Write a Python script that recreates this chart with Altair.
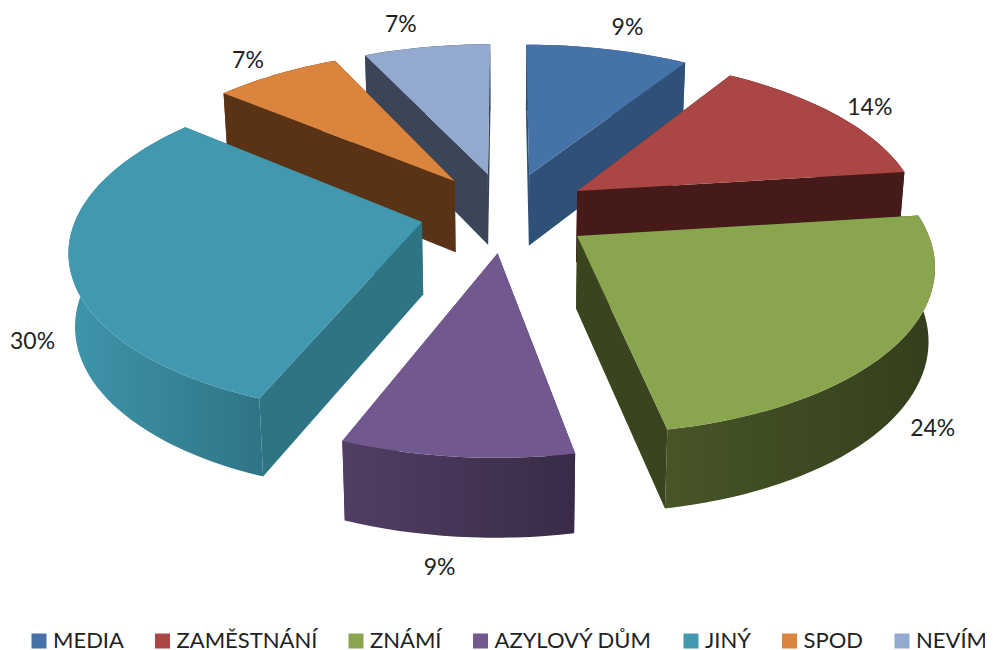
import math
import altair as alt

names = ["MEDIA", "ZAMĚSTNÁNÍ", "ZNÁMÍ", "AZYLOVÝ DŮM", "JINÝ", "SPOD", "NEVÍM"]
values = [9, 14, 24, 9, 30, 7, 7]
top_colors = ["#4572A7", "#AA4643", "#89A54E", "#71588F", "#4198AF", "#DB843D", "#93A9CF"]
radial_colors = ["#2F5077", "#451A18", "#3A451F", "#3C2D4C", "#2F7485", "#5A3316", "#3B4558"]
wall_left = ["#2F5077", "#451A18", "#475527", "#523E64", "#3F95AB", "#5A3316", "#3B4558"]
wall_right = ["#2F5077", "#451A18", "#333F1C", "#392B47", "#2E7486", "#5A3316", "#3B4558"]
draw_order = [6, 0, 5, 1, 4, 2, 3]

# pie model on the page (8px margin removed)
CX, CY, A, B, P, E, D, SHRINK = 498, 204, 344, 160, 0.15, 0.25, 72, 0.985


def project(x, y, bottom=False):
    w = 1 + P * y
    if bottom:
        return [CX + x * A / w * SHRINK, CY + (-y * B) / w + D / w ** 0.5]
    return [CX + x * A / w, CY + (-y * B) / w]


total = sum(values)
slices = []
start = 0.0
for i, v in enumerate(values):
    end = start + 360.0 * v / total
    slices.append((start, end))
    start = end


def ground(i, ang, r=1.0):
    a0, a1 = slices[i]
    m = math.radians((a0 + a1) / 2)
    a = math.radians(ang)
    return (E * math.sin(m) + r * math.sin(a), E * math.cos(m) + r * math.cos(a))


def arc(i):
    a0, a1 = slices[i]
    n = max(2, int((a1 - a0) / 2))
    return [a0 + (a1 - a0) * k / n for k in range(n + 1)]


def feature(ring, name):
    ring = list(ring) + [ring[0]]
    return {"type": "Feature", "properties": {"name": name},
            "geometry": {"type": "Polygon", "coordinates": [ring]}}


proj = alt.Projection(type="identity", scale=1, translate=[0, 0])


def shape_layer(ring, fill, name):
    return alt.Chart(alt.Data(values=[feature(ring, name)])).mark_geoshape(
        fill=fill, strokeWidth=0).project(**proj.to_dict())


layers = []
color_scale = alt.Scale(domain=names, range=top_colors)
for i in draw_order:
    a0, a1 = slices[i]
    apex = ground(i, 0, 0)
    radials = []
    for ang, normal in ((a0, a0 - 90), (a1, a1 + 90)):
        p = ground(i, ang)
        ring = [project(*apex), project(*p), project(*p, bottom=True), project(*apex, bottom=True)]
        radials.append((math.cos(math.radians(normal)) < 0, ring))
    for front, ring in radials:
        if not front:
            layers.append(shape_layer(ring, radial_colors[i], names[i]))
    pts = [ground(i, a) for a in arc(i)]
    outer = [project(*p) for p in pts] + [project(*p, bottom=True) for p in reversed(pts)]
    grad = {"gradient": "linear", "x1": 0, "y1": 0, "x2": 1, "y2": 0,
            "stops": [{"offset": 0, "color": wall_left[i]}, {"offset": 1, "color": wall_right[i]}]}
    layers.append(shape_layer(outer, grad, names[i]))
    for front, ring in radials:
        if front:
            layers.append(shape_layer(ring, radial_colors[i], names[i]))
    top = [project(*apex)] + [project(*p) for p in pts]
    layers.append(
        alt.Chart(alt.Data(values=[feature(top, names[i])])).mark_geoshape(strokeWidth=0).encode(
            color=alt.Color(
                "properties.name:N", scale=color_scale,
                legend=alt.Legend(
                    title=None, orient="none", direction="horizontal", columns=7,
                    legendX=20, legendY=622, symbolType="square", symbolSize=225,
                    symbolStrokeWidth=0, labelFont="Lato", labelFontSize=22, labelColor="#222222",
                    labelLimit=300, labelOffset=3, columnPadding=27.5, padding=0, symbolOpacity=1,
                    values=names,
                ),
            )
        ).project(**proj.to_dict())
    )

# small per-label nudges away from the model position (screen px)
label_nudge = [(11, -7), (3, 2), (-4, -8), (-11, -2), (4, -2), (-8, -1), (-19, -8)]
labels = []
for i, v in enumerate(values):
    a0, a1 = slices[i]
    m = (a0 + a1) / 2
    x, y = ground(i, m, 1.13)
    px, py = project(x, y, bottom=y < 0.2)
    labels.append({"label": f"{v}%", "px": px + label_nudge[i][0], "py": py + label_nudge[i][1]})

text = alt.Chart(alt.Data(values=labels)).mark_text(
    font="Lato", fontSize=23, color="#222222", align="center", baseline="middle"
).encode(
    x=alt.X("px:Q", scale=None, axis=None),
    y=alt.Y("py:Q", scale=None, axis=None),
    text="label:N",
)

chart = alt.layer(*layers, text).properties(
    width=977, height=642, padding=0, background="white",
    autosize=alt.AutoSizeParams(type="none"),
).configure_view(stroke=None)

chart.save("out.html", embed_options={"renderer": "svg", "actions": False})
